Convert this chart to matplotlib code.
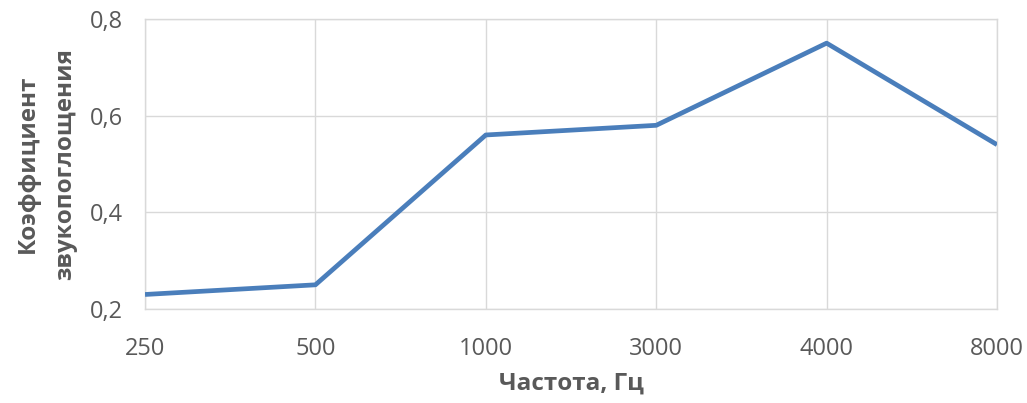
import matplotlib.pyplot as plt
from matplotlib.ticker import FuncFormatter

plt.rcParams['font.family'] = ['Open Sans', 'DejaVu Sans']

freqs = ['250', '500', '1000', '3000', '4000', '8000']
coef = [0.23, 0.25, 0.56, 0.58, 0.75, 0.54]
y_ticks = [0.2, 0.4, 0.6, 0.8]

text_color = '#595959'
grid_color = '#d9d9d9'

fig = plt.figure(figsize=(10.27, 4.03), dpi=100)
ax = fig.add_axes([0.1412, 0.2333, 0.8296, 0.7196])

x = range(len(freqs))
ax.plot(x, coef, color='#4a7ebb', linewidth=3.4, solid_capstyle='butt', zorder=3)

ax.set_xlim(0, len(freqs) - 1)
ax.set_ylim(0.2, 0.8)
ax.set_xticks(list(x))
ax.set_xticklabels(freqs)
ax.set_yticks(y_ticks)
ax.yaxis.set_major_formatter(FuncFormatter(lambda v, p: f'{v:.1f}'.replace('.', ',')))

ax.grid(True, color=grid_color, linewidth=1)
ax.set_axisbelow(True)
for s in ax.spines.values():
    s.set_color(grid_color)
    s.set_linewidth(1)

ax.tick_params(length=0, labelsize=17, labelcolor=text_color)
ax.tick_params(axis='x', pad=20)
ax.tick_params(axis='y', pad=16)

ax.set_xlabel('Частота, Гц', fontsize=17.5, fontweight='bold', color=text_color, labelpad=8)
ax.set_ylabel('Коэффициент\nзвукопоглощения', fontsize=17.5, fontweight='bold',
              color=text_color, labelpad=9, linespacing=1.75)

fig.savefig('out.png', dpi=100)
